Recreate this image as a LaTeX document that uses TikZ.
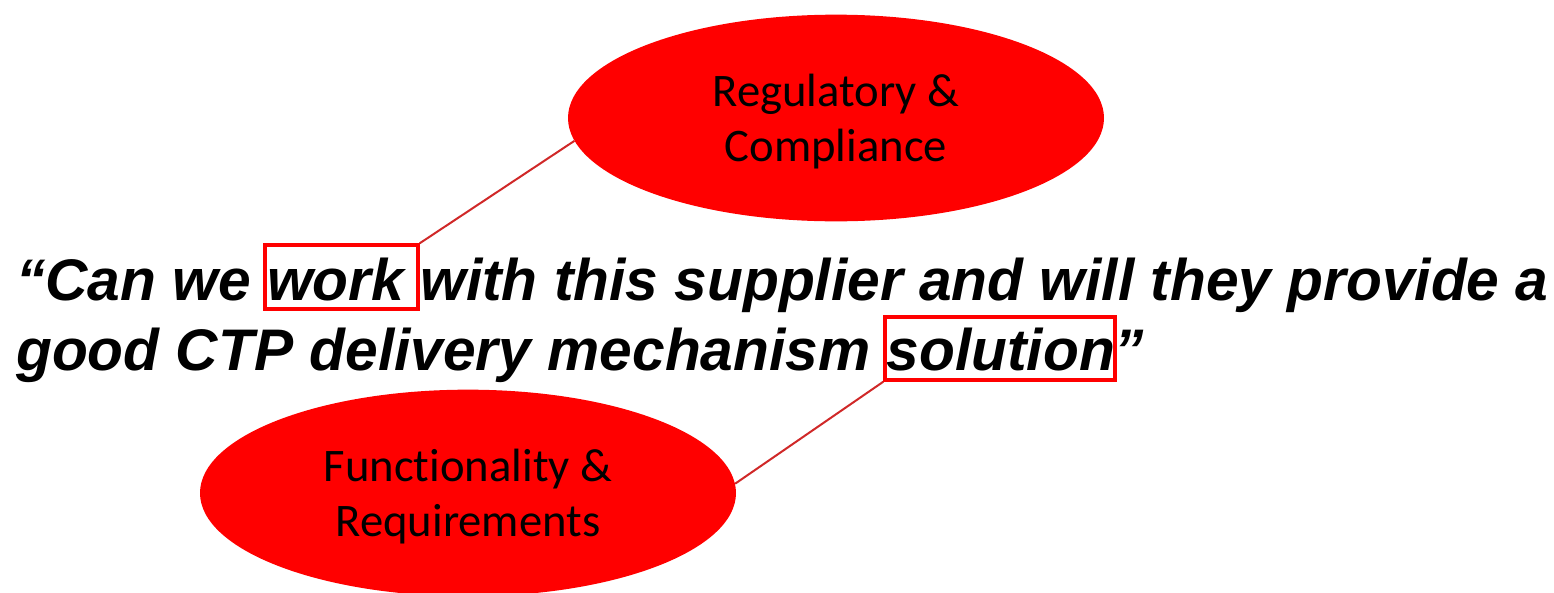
\documentclass[tikz,border=0pt]{standalone}
\usepackage{fontspec}
\setmainfont{Liberation Sans}
\newfontfamily\calib[Ligatures=NoCommon]{Carlito}
\usetikzlibrary{shapes.geometric}
\definecolor{fillred}{HTML}{FF0000}
\definecolor{linkred}{HTML}{D02828}
\begin{document}
\begin{tikzpicture}[x=0.75pt,y=-0.75pt,
  bubble/.style={ellipse,fill=fillred,draw=none,inner sep=0pt,
    minimum width=402pt,minimum height=155pt},
  bubtext/.style={inner sep=0pt,align=center,
    font=\calib\fontsize{35}{41.3}\selectfont,text=black},
  quote/.style={anchor=base west,inner sep=0pt,
    font=\fontsize{44}{52}\selectfont\bfseries\itshape},
  hilite/.style={draw=fillred,line width=2.6pt,inner sep=0pt,rectangle},
  link/.style={draw=linkred,line width=1.5pt}]
\useasboundingbox (0,0) rectangle (1554,593);
\node[bubble] (reg) at (836,118) {};
\node[bubtext] (regt) at (836,122) {Regulatory \&\\Compliance};
\node[bubble] (fun) at (468,493) {};
\node[bubtext] (funt) at (468,497) {Functionality \&\\Requirements};
\node[quote] (l1) at (16,300) {“Can we work with this supplier and will they provide a};
\node[quote] (l2) at (16,370) {good CTP delivery mechanism solution”};
\node[hilite,minimum width=114.75pt,minimum height=48pt] (wbox) at (341.5,277) {};
\node[hilite,minimum width=172.5pt,minimum height=47.25pt] (sbox) at (1000,348.5) {};
\draw[link] (wbox.north east) -- (reg.185);
\draw[link] (sbox.south west) -- (fun.2);
\end{tikzpicture}
\end{document}
